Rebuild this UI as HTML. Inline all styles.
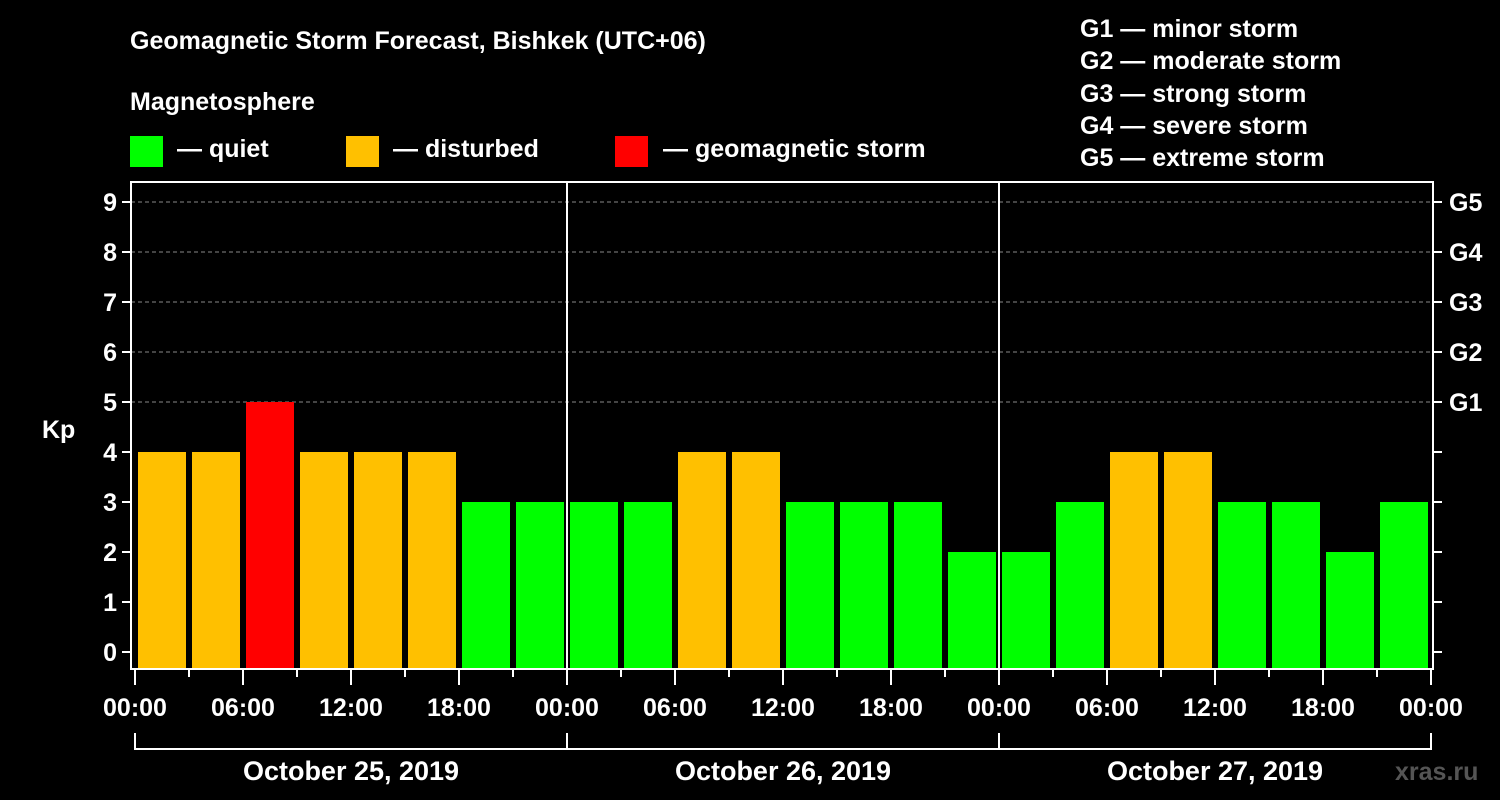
<!DOCTYPE html>
<html><head><meta charset="utf-8"><style>
body{margin:0;background:#000;}
svg{display:block;font-family:"Liberation Sans",sans-serif;font-weight:bold;}
</style></head><body>
<svg id="c" width="1500" height="800">
<rect width="1500" height="800" fill="#000"/>
<text x="130" y="49" fill="#fff" font-size="25">Geomagnetic Storm Forecast, Bishkek (UTC+06)</text>
<text x="130" y="110" fill="#fff" font-size="25">Magnetosphere</text>
<g><rect x="130" y="136" width="33" height="31" fill="#00ff00"/><text x="177" y="157" fill="#fff" font-size="25">— quiet</text></g>
<g><rect x="346" y="136" width="33" height="31" fill="#ffc000"/><text x="393" y="157" fill="#fff" font-size="25">— disturbed</text></g>
<g><rect x="615" y="136" width="33" height="31" fill="#ff0000"/><text x="663" y="157" fill="#fff" font-size="25">— geomagnetic storm</text></g>
<g fill="#fff" font-size="25">
<text x="1080" y="37">G1 — minor storm</text>
<text x="1080" y="69">G2 — moderate storm</text>
<text x="1080" y="102">G3 — strong storm</text>
<text x="1080" y="134">G4 — severe storm</text>
<text x="1080" y="166">G5 — extreme storm</text>
</g>
<text x="42" y="438" fill="#fff" font-size="25">Kp</text>
<text x="1395" y="780" fill="#555" font-size="25">xras.ru</text>
<g id="plot"></g>
</svg>
<script>
const kpValues=[4,4,5,4,4,4,3,3, 3,3,4,4,3,3,3,2, 2,3,4,4,3,3,2,3];
const yTicks=[0,1,2,3,4,5,6,7,8,9];
const gLabels=["G1","G2","G3","G4","G5"];
const gLevels=[5,6,7,8,9];
const xTickLabels=["00:00","06:00","12:00","18:00","00:00","06:00","12:00","18:00","00:00","06:00","12:00","18:00","00:00"];
const dayLabels=["October 25, 2019","October 26, 2019","October 27, 2019"];

const NS="http://www.w3.org/2000/svg";
const g=document.getElementById('plot');
const L=131,R=1433,T=182,B=669,X0=135,HPX=18;
const xh=h=>X0+h*HPX;
const yk=k=>652-k*50;
function mk(tag,a,parent){const e=document.createElementNS(NS,tag);for(const k in a)e.setAttribute(k,a[k]);(parent||g).appendChild(e);return e;}

// grid lines
gLevels.forEach(k=>{
  const e=mk('line',{x1:L,x2:R,y1:yk(k),y2:yk(k),stroke:'#888','stroke-dasharray':'4,3','stroke-width':1});
  
  
});
// bars
kpValues.forEach((v,i)=>{
  const col=v>=5?'#ff0000':(v>=4?'#ffc000':'#00ff00');
  const e=mk('rect',{x:xh(i*3)+3,y:yk(v),width:3*HPX-6,height:B-1-yk(v),fill:col});
  
  
});
// day dividers
[1,2].forEach(d=>{
  const e=mk('line',{x1:xh(d*24),x2:xh(d*24),y1:T,y2:B,stroke:'#fff','stroke-width':2});
  
  
});
// frame
const fr=mk('rect',{x:L,y:T,width:R-L,height:B-T,fill:'none',stroke:'#fff','stroke-width':2});


// y ticks
yTicks.forEach(k=>{
  mk('line',{x1:L-9,x2:L,y1:yk(k),y2:yk(k),stroke:'#fff','stroke-width':2});
  mk('line',{x1:R,x2:R+9,y1:yk(k),y2:yk(k),stroke:'#fff','stroke-width':2});
  const t=mk('text',{x:L-14,y:yk(k)+9,fill:'#fff','font-size':25,'text-anchor':'end'});
  t.textContent=k;
  
  
});
gLabels.forEach((s,i)=>{
  const t=mk('text',{x:R+16,y:yk(gLevels[i])+9,fill:'#fff','font-size':25});
  t.textContent=s;
  
  
});
// x ticks
for(let h=0;h<=72;h+=3){
  const major=h%6===0;
  mk('line',{x1:xh(h),x2:xh(h),y1:B,y2:B+(major?16:8),stroke:'#fff','stroke-width':2});
}
xTickLabels.forEach((s,i)=>{
  const t=mk('text',{x:xh(i*6),y:716,fill:'#fff','font-size':25,'text-anchor':'middle'});
  t.textContent=s;
  
  
});
// day brackets
mk('line',{x1:xh(0),x2:xh(72),y1:749,y2:749,stroke:'#fff','stroke-width':2});
for(let d=0;d<=3;d++) mk('line',{x1:xh(d*24),x2:xh(d*24),y1:733,y2:750,stroke:'#fff','stroke-width':2});
dayLabels.forEach((s,i)=>{
  const t=mk('text',{x:xh(i*24+12),y:780,fill:'#fff','font-size':27,'text-anchor':'middle'});
  t.textContent=s;
  
  
});
</script>
</body></html>
